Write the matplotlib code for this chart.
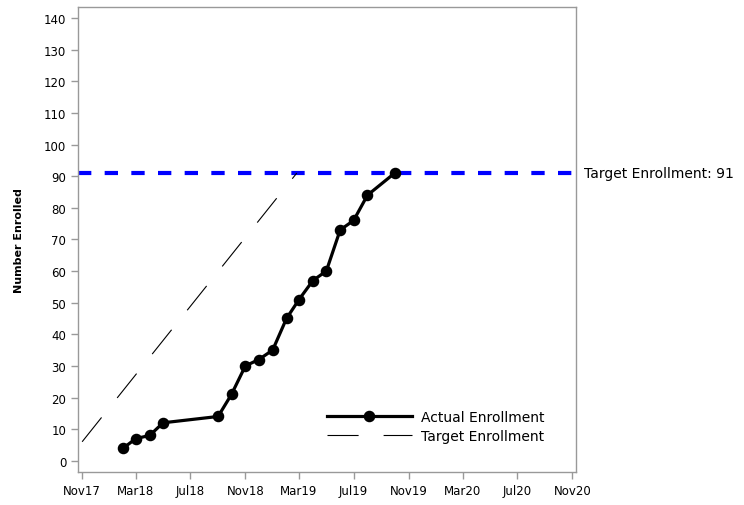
import numpy as np
import matplotlib
matplotlib.use('Agg')
import matplotlib.pyplot as plt
import matplotlib.dates as mdates

# actual enrollment, monthly counts
act_dates = ['2018-02-01', '2018-03-01', '2018-04-01', '2018-05-01', '2018-09-01',
             '2018-10-01', '2018-11-01', '2018-12-01', '2019-01-01', '2019-02-01',
             '2019-03-01', '2019-04-01', '2019-05-01', '2019-06-01', '2019-07-01',
             '2019-08-01', '2019-10-01']
act_vals = [4, 7, 8, 12, 14, 21, 30, 32, 35, 45, 51, 57, 60, 73, 76, 84, 91]

# target enrollment (straight line)
tgt_dates = ['2017-11-01', '2019-02-24']
tgt_vals = [6, 91]

target_total = 91
tick_dates = ['2017-11-01', '2018-03-01', '2018-07-01', '2018-11-01', '2019-03-01',
              '2019-07-01', '2019-11-01', '2020-03-01', '2020-07-01', '2020-11-01']
yticks = list(range(0, 141, 10))

plt.rcParams['font.family'] = ['DejaVu Sans']

fig = plt.figure(figsize=(7.44, 5.06), dpi=100)
ax = fig.add_axes([0.105, 0.065, 0.669, 0.919])

ad = np.array(act_dates, dtype='datetime64[D]')
td = np.array(tgt_dates, dtype='datetime64[D]')

ax.axhline(target_total, color='#0000ff', lw=3, dashes=(3.2, 3.2), zorder=1, clip_on=False)
ax.plot(ad, act_vals, color='black', lw=2.3, marker='o', ms=7.3, label='Actual Enrollment', zorder=3)
ax.plot(td, tgt_vals, color='black', lw=0.8, dashes=(28, 22.5), label='Target Enrollment', zorder=2)

ax.text(1.016, target_total, 'Target Enrollment: %d' % target_total, transform=ax.get_yaxis_transform(),
        va='center', ha='left', fontsize=10)

ax.set_xlim(np.datetime64('2017-10-23'), np.datetime64('2020-11-09'))
ax.set_ylim(-3.6, 143.5)
ax.set_xticks(np.array(tick_dates, dtype='datetime64[D]'))
ax.xaxis.set_major_formatter(mdates.DateFormatter('%b%y'))
ax.set_yticks(yticks)
ax.tick_params(labelsize=8.5, color='#999999', length=5, width=1)
for s in ax.spines.values():
    s.set_color('#999999')
    s.set_linewidth(1)

ax.set_ylabel('Number Enrolled', fontsize=8, fontweight='bold', labelpad=14)

ax.legend(loc='upper left', bbox_to_anchor=(0.4997, 0.133), frameon=False, fontsize=10,
          handlelength=6.1, handletextpad=0.65, borderpad=0, borderaxespad=0, labelspacing=0.35)

fig.savefig('out.png', dpi=100)
